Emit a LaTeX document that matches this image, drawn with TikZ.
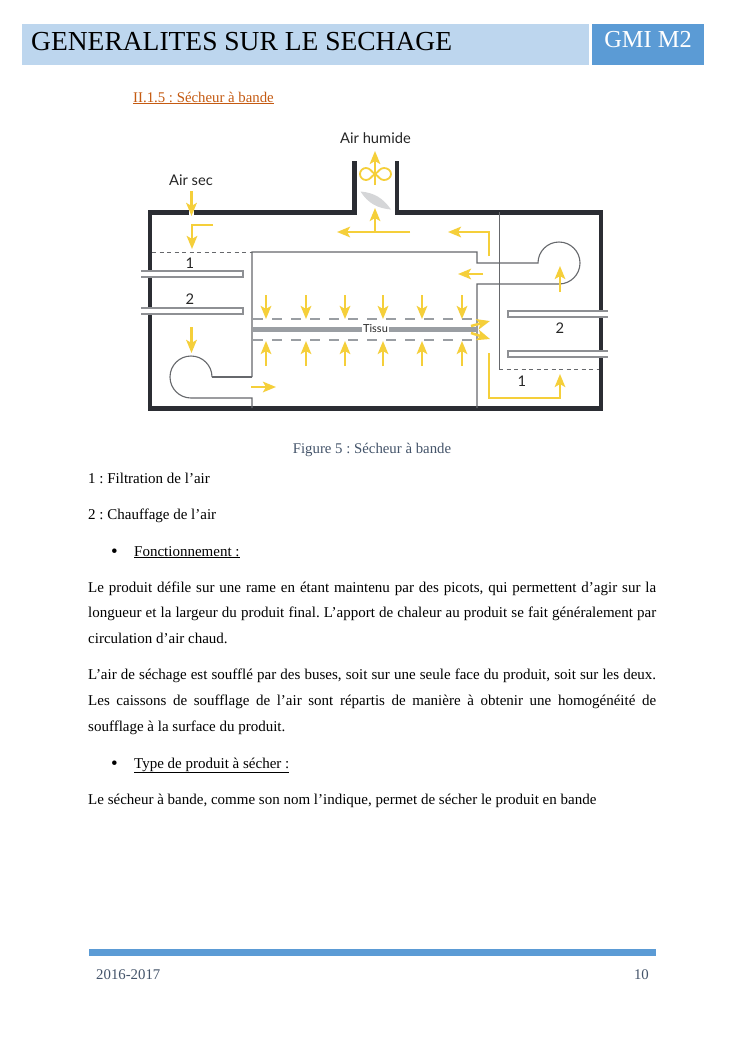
\documentclass[tikz,border=0pt]{standalone}
\usepackage{fontspec}
\usepackage{xcolor}
\setmainfont{Liberation Serif}
\newfontfamily\diagfont{Lato}
\usetikzlibrary{arrows.meta}
\definecolor{bandlight}{HTML}{BDD6EE}
\definecolor{bandblue}{HTML}{5B9BD5}
\definecolor{headorange}{HTML}{C55A11}
\definecolor{captionblue}{HTML}{44546A}
\definecolor{wallgrey}{HTML}{2B2D33}
\definecolor{thingrey}{HTML}{66686C}
\definecolor{tubegrey}{HTML}{8E9094}
\definecolor{clothgrey}{HTML}{9A9EA3}
\definecolor{bladegrey}{HTML}{D5D6D8}
\definecolor{airyellow}{HTML}{F5CF3A}
\newcommand{\fullline}[1]{\makebox[568pt][s]{#1}}
\frenchspacing
\tikzset{
  wall/.style = {draw = wallgrey, line width = 4.6pt, line join = miter},
  thin grey/.style = {draw = thingrey, line width = 1.1pt},
  tube/.style = {draw = tubegrey, line width = 1.3pt, fill = white},
  air/.style = {draw = airyellow, line width = 2.5pt, -{Stealth[length = 13pt, width = 10.5pt, inset = 3pt]}},
  body/.style = {anchor = base west, inner sep = 0, font = \fontsize{15}{18}\selectfont},
  small/.style = {anchor = base, inner sep = 0, font = \fontsize{14.8}{18}\selectfont},
  diag/.style = {inner sep = 0, font = \diagfont\fontsize{14.7}{16}\selectfont, text = black!85}
}
\begin{document}
\begin{tikzpicture}[x = 1pt, y = 1pt]
 \useasboundingbox (0, 0) rectangle (745, -1053);
 \fill[white] (0, 0) rectangle (745, -1053);
 % header
 \fill[bandlight] (22, -24) rectangle (589, -65);
 \fill[bandblue] (592, -24) rectangle (704, -65);
 \node[anchor = base west, inner sep = 0, font = \fontsize{27.5}{32}\selectfont] (title) at (31, -50.5) {GENERALITES SUR LE SECHAGE};
 \node[anchor = base, inner sep = 0, text = white, font = \fontsize{24.4}{26}\selectfont] (tag) at (648, -47) {GMI M2};
 \node[small, anchor = base west, text = headorange] (section) at (133, -102) {\underline{II.1.5 : Sécheur à bande}};
 % blade and fan
 \fill[bladegrey] (360.5, -191.5) to [out = -5, in = 125] (391, -209.5) to [out = 175, in = -57] (360.5, -191.5);
 \draw[airyellow, line width = 1.8pt] (375, -174) to [out = 150, in = 0] (366, -168) to [out = 180, in = 90] (360, -174) to [out = -90, in = 180] (366, -180) to [out = 0, in = -150] (375, -174) to [out = 30, in = 180] (384, -168) to [out = 0, in = 90] (391, -174) to [out = -90, in = 0] (384, -180) to [out = 180, in = -30] (375, -174);
 % outer walls
 \draw[wall] (189, -212.5) -- (150, -212.5) -- (150, -408.5) -- (601, -408.5) -- (601, -212.5) -- (397, -212.5) -- (397, -161);
 \draw[wall] (354.5, -161) -- (354.5, -212.5) -- (194, -212.5);
 % inner partitions
 \draw[thin grey] (252, -377) -- (252, -252) -- (477, -252) -- (477, -263) -- (538, -263) arc [start angle = 180, end angle = -90, radius = 21] -- (477, -284) -- (477, -408);
 \draw[thin grey] (212, -377) -- (252, -377);
 \draw[thin grey] (212, -377) arc [start angle = 0, end angle = 270, radius = 21] -- (252, -398) -- (252, -408);
 \draw[thingrey, line width = .8pt] (499, -212) -- (499, -369);
 \draw[thingrey, line width = .9pt, dash pattern = on 4pt off 3.5pt] (152, -252) -- (252, -252);
 \draw[thingrey, line width = .9pt, dash pattern = on 4pt off 3.5pt] (499, -369) -- (599, -369);
 % heaters
 \foreach \y in {271, 308}
  \draw[tube] (141, -\y) -- (243, -\y) -- (243, -\y - 6) -- (141, -\y - 6);
 \foreach \y in {311, 351}
  \draw[tube] (608, -\y) -- (508, -\y) -- (508, -\y - 6) -- (608, -\y - 6);
 % cloth
 \draw[clothgrey, line width = 5pt] (253, -329) -- (477, -329);
 \foreach \y in {319, 340}
  \draw[clothgrey, line width = 1.2pt, dash pattern = on 10pt off 9pt] (253, -\y) -- (477, -\y);
 % air flow
 \foreach \x in {266, 306, 345, 383, 422, 462} {
  \draw[air] (\x, -295) -- (\x, -319);
  \draw[air] (\x, -366) -- (\x, -341);
 }
 \draw[air] (191.5, -191) -- (191.5, -216);
 \draw[air] (213, -225) -- (192, -225) -- (192, -249);
 \draw[air] (375, -185) -- (375, -151);
 \draw[air] (375, -232) -- (375, -208);
 \draw[air] (410, -232) -- (337, -232);
 \draw[air] (489, -256) -- (489, -232) -- (448, -232);
 \draw[air] (483, -274) -- (458, -274);
 \draw[air] (560, -292) -- (560, -266);
 \draw[air] (489, -353) -- (489, -398) -- (560, -398) -- (560, -374);
 \draw[air] (471, -326) -- (490, -321);
 \draw[air] (471, -333) -- (490, -339);
 \draw[air] (191.5, -327) -- (191.5, -353);
 \draw[air] (251, -387) -- (276, -387);
 % diagram labels
 \node[diag] (airsec) at (191, -180) {Air sec};
 \node[diag] (airhum) at (375.5, -138) {Air humide};
 \node[diag, fill = white, inner xsep = 1pt, font = \diagfont\fontsize{11}{12}\selectfont] (tissu) at (375.5, -329) {Tissu};
 \node[diag] (filterl) at (190, -263) {1};
 \node[diag] (heatl) at (190, -299) {2};
 \node[diag] (heatr) at (560, -328) {2};
 \node[diag] (filterr) at (522, -381) {1};
 % page text
 \node[small, text = captionblue] (caption) at (372, -453) {Figure 5 : Sécheur à bande};
 \node[body] (lega) at (88, -483) {1 : Filtration de l’air};
 \node[body] (legb) at (88, -519) {2 : Chauffage de l’air};
 \node[body, font = \fontsize{19}{20}\selectfont] (bula) at (111, -557) {\textbullet};
 \node[body] (func) at (134, -556) {\underline{Fonctionnement :}};
 \node[body] (pa) at (88, -592) {\fullline{Le produit défile sur une rame en étant maintenu par des picots, qui permettent d’agir sur la}};
 \node[body] (pb) at (88, -617) {\fullline{longueur et la largeur du produit final. L’apport de chaleur au produit se fait généralement par}};
 \node[body] (pc) at (88, -643) {circulation d’air chaud.};
 \node[body] (pd) at (88, -679) {\fullline{L’air de séchage est soufflé par des buses, soit sur une seule face du produit, soit sur les deux.}};
 \node[body] (pe) at (88, -705) {\fullline{Les caissons de soufflage de l’air sont répartis de manière à obtenir une homogénéité de}};
 \node[body] (pf) at (88, -731) {soufflage à la surface du produit.};
 \node[body, font = \fontsize{19}{20}\selectfont] (bulb) at (111, -769) {\textbullet};
 \node[body] (kind) at (134, -768) {\underline{Type de produit à sécher :}};
 \node[body] (pg) at (88, -804) {Le sécheur à bande, comme son nom l’indique, permet de sécher le produit en bande};
 % footer
 \fill[bandblue] (89, -949) rectangle (656, -956);
 \node[small, anchor = base west, text = captionblue] (years) at (96, -979) {2016-2017};
 \node[small, anchor = base east, text = captionblue] (page) at (649, -979) {10};
\end{tikzpicture}
\end{document}
